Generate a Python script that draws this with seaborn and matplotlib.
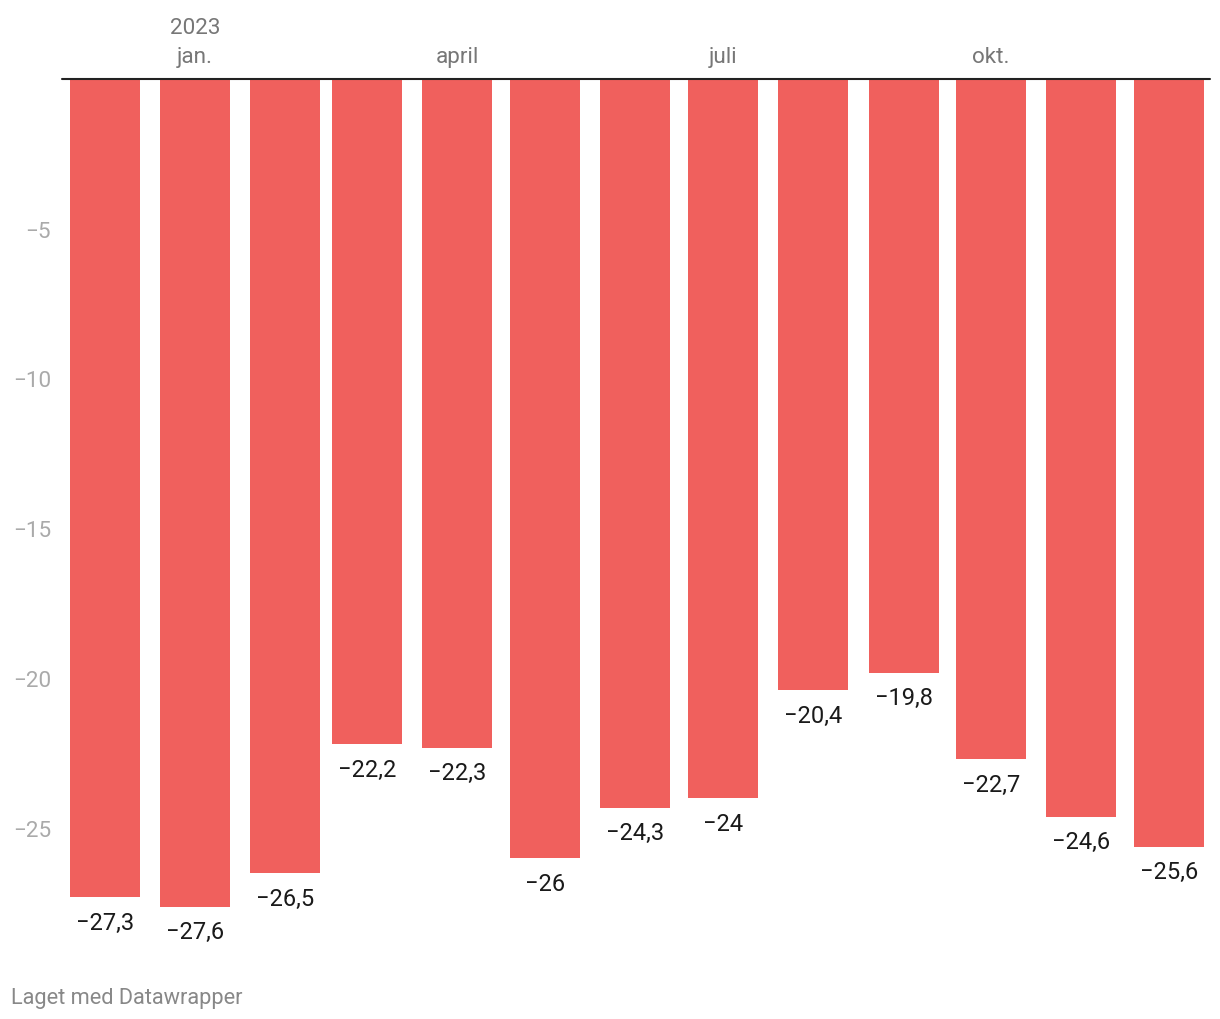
import numpy as np
import pandas as pd
import matplotlib
matplotlib.use("Agg")
import matplotlib.pyplot as plt
import seaborn as sns

# ---- data ----
months = ["2022-12", "2023-01", "2023-02", "2023-03", "2023-04", "2023-05", "2023-06",
          "2023-07", "2023-08", "2023-09", "2023-10", "2023-11", "2023-12"]
values = [-27.3, -27.6, -26.5, -22.2, -22.3, -26.0, -24.3, -24.0, -20.4, -19.8, -22.7, -24.6, -25.6]
tick_months = ["2023-01", "2023-04", "2023-07", "2023-10"]
tick_labels = ["2023\njan.", "april", "juli", "okt."]
y_ticks = [-5, -10, -15, -20, -25]
footer = "Laget med Datawrapper"

sns.set_style("white")
plt.rcParams["font.family"] = ["Roboto", "DejaVu Sans"]
plt.rcParams["axes.unicode_minus"] = True

dates = pd.to_datetime(months)
origin = dates[0]
days = (dates - origin).days
df = pd.DataFrame({"day": days, "value": values})

W, H = 1220, 1020
fig = plt.figure(figsize=(W / 100, H / 100), dpi=100)
# axes geometry in pixels
ax_left, ax_right = 62, 1210
ax_top = 79.5
ymin = -28.0
ax_bottom = ax_top + (-ymin) * 30
ax = fig.add_axes([ax_left / W, 1 - ax_bottom / H, (ax_right - ax_left) / W, (ax_bottom - ax_top) / H])

bar_color = "#f0605d"
sns.barplot(data=df, x="day", y="value", native_scale=True, width=24 / 28,
            color=bar_color, saturation=1, errorbar=None, ax=ax, linewidth=0)

px_per_day = 2.916
center0 = 104.6
ax.set_xlim((ax_left - center0) / px_per_day, (ax_right - center0) / px_per_day)
ax.set_ylim(ymin, 0)

for s in ax.spines.values():
    s.set_visible(False)
ax.axhline(0, color="#222222", lw=1.5, zorder=5, clip_on=False)

# x ticks on top
tick_days = (pd.to_datetime(tick_months) - origin).days
ax.xaxis.tick_top()
ax.set_xticks(list(tick_days))
ax.set_xticklabels(tick_labels, fontsize=16.2, color="#777777", linespacing=1.55)
ax.tick_params(axis="x", length=0, pad=8)
ax.set_xlabel("")
ax.set_ylabel("")

ax.set_yticks(y_ticks)
ax.set_yticklabels([f"\u2212{abs(t)}" for t in y_ticks], fontsize=16.2, color="#aaaaaa")
ax.tick_params(axis="y", length=0, pad=8)

# value labels
for d, v in zip(days, values):
    txt = f"{v:g}".replace("-", "\u2212").replace(".", ",")
    ax.annotate(txt, (d, v), xytext=(0, -23), textcoords="offset points",
                ha="center", va="baseline", fontsize=17, color="#1a1a1a")

fig.text(11 / W, 1 - 1004 / H, footer, fontsize=15.7, color="#888888", ha="left", va="baseline")

fig.savefig("out.png", dpi=100, facecolor="white")
